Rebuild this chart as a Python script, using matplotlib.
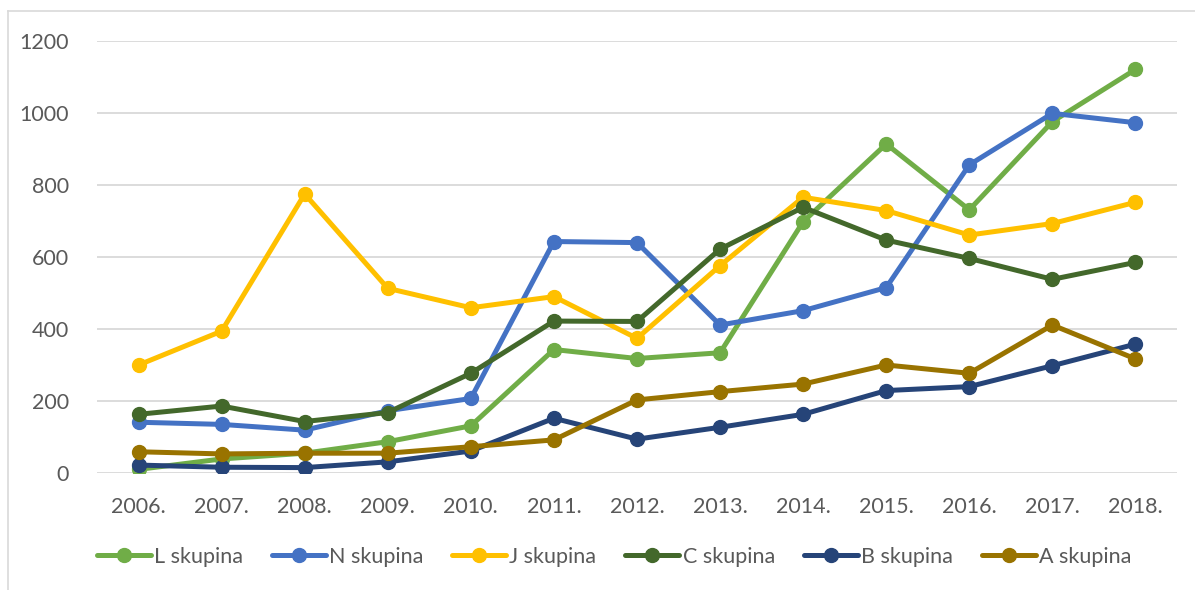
import numpy as np
import matplotlib
matplotlib.use('Agg')
import matplotlib.pyplot as plt
from matplotlib.lines import Line2D

plt.rcParams['font.family'] = ['Lato', 'DejaVu Sans']

years = ['2006.', '2007.', '2008.', '2009.', '2010.', '2011.', '2012.',
         '2013.', '2014.', '2015.', '2016.', '2017.', '2018.']

l_skupina = [10, 39, 55, 87, 131, 343, 318, 334, 698, 914, 731, 976, 1121]
n_skupina = [141, 135, 119, 173, 207, 643, 640, 411, 451, 515, 856, 999, 973]
j_skupina = [300, 394, 775, 513, 459, 490, 374, 576, 766, 729, 661, 693, 752]
c_skupina = [163, 186, 143, 168, 277, 422, 421, 622, 738, 647, 596, 538, 585]
b_skupina = [22, 16, 15, 31, 61, 152, 94, 127, 163, 229, 240, 298, 358]
a_skupina = [59, 53, 55, 55, 73, 92, 203, 226, 247, 300, 277, 411, 317]

series = [('L skupina', l_skupina, '#70AD47'),
          ('N skupina', n_skupina, '#4472C4'),
          ('J skupina', j_skupina, '#FFC000'),
          ('C skupina', c_skupina, '#43682B'),
          ('B skupina', b_skupina, '#264478'),
          ('A skupina', a_skupina, '#997300')]

W, H = 1195, 590
fig = plt.figure(figsize=(W / 100, H / 100), dpi=100)

# outer chart border (only top/left visible in the crop)
fig.add_artist(Line2D([8 / W, 1.0], [1 - 11 / H, 1 - 11 / H],
                      color='#D9D9D9', lw=1.2, transform=fig.transFigure))
fig.add_artist(Line2D([8 / W, 8 / W], [0, 1 - 11 / H],
                      color='#D9D9D9', lw=1.2, transform=fig.transFigure))

ax = fig.add_axes([97 / W, 1 - 473 / H, (1177 - 97) / W, (473 - 41) / H])

x = np.arange(len(years))
for name, vals, col in series:
    ax.plot(x, vals, '-o', color=col, lw=3.6, ms=10, label=name,
            solid_capstyle='round', solid_joinstyle='round')

ax.set_xlim(-0.5, len(years) - 0.5)
ax.set_ylim(0, 1200)
ax.set_yticks(np.arange(0, 1201, 200))
ax.set_xticks(x)
ax.set_xticklabels(years)
ax.grid(axis='y', color='#D9D9D9', lw=1.3)
ax.set_axisbelow(True)
for s in ax.spines.values():
    s.set_visible(False)
ax.tick_params(axis='both', length=0, labelsize=15.5, colors='#595959')
ax.tick_params(axis='x', pad=17)
ax.tick_params(axis='y', pad=20)

leg = fig.legend(loc='center', bbox_to_anchor=(614 / W, 1 - 557 / H),
                 ncol=6, frameon=False, fontsize=15.5, handlelength=2.5,
                 handletextpad=0.15, columnspacing=1.35)
for t in leg.get_texts():
    t.set_color('#595959')

fig.savefig('out.png', dpi=100)
